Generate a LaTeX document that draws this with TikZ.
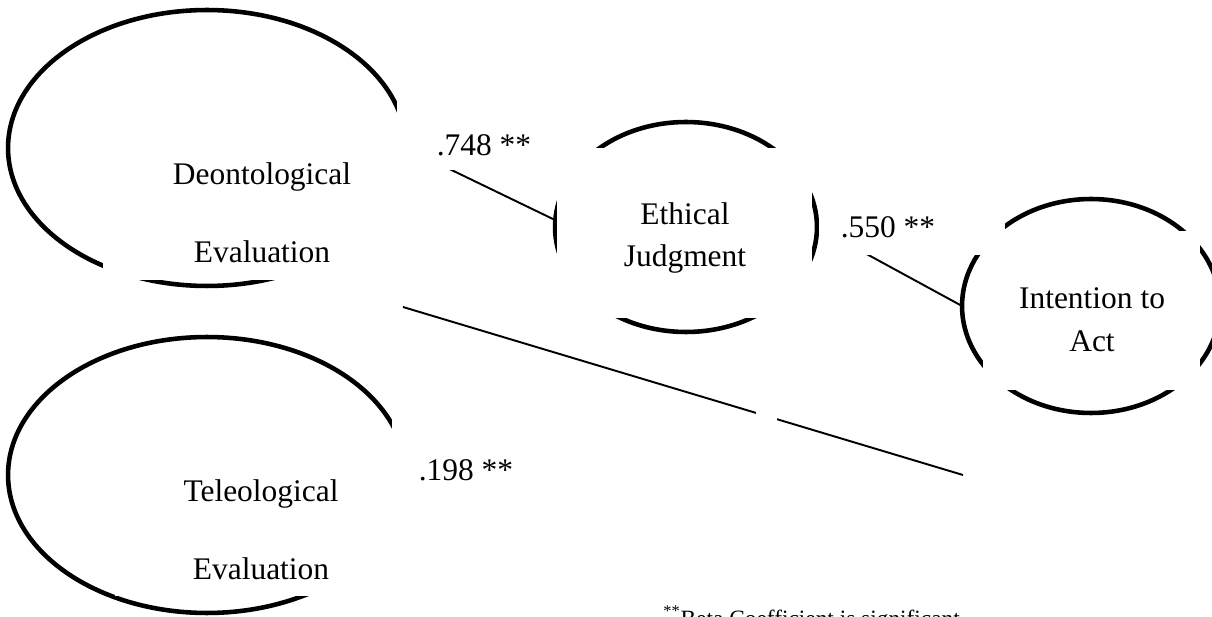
\documentclass[tikz,border=0pt]{standalone}
\usepackage{fontspec}
\setmainfont{Liberation Serif}
\usepackage{tikz}
\usetikzlibrary{shapes.geometric}
\tikzset{latent/.style = {draw, ellipse, line width = 2.6pt, inner sep = 0, outer sep = 0}}
\tikzset{mask/.style = {fill = white}}
\tikzset{link/.style = {line width = 1.1pt}}
\tikzset{txt/.style = {align = center, inner sep = 0, font = \fontsize{17.9}{24.2}\selectfont}}
\tikzset{wide/.style = {align = center, inner sep = 0, font = \fontsize{17.9}{44.2}\selectfont}}

\begin{document}
\begin{tikzpicture}[x = 0.02cm, y = -0.02cm]
      \useasboundingbox (0, 0) rectangle (1212, 617);

      % the four constructs
      \node [latent, minimum width = 7.96cm, minimum height = 5.52cm] (deon) at (207, 148) {};
      \node [latent, minimum width = 7.96cm, minimum height = 5.52cm] (teleo) at (207, 475) {};
      \node [latent, minimum width = 5.24cm, minimum height = 4.2cm] (ethic) at (686, 227) {};
      \node [latent, minimum width = 5.16cm, minimum height = 4.28cm] (inten) at (1091, 306) {};

      \coordinate (direct-a) at (403, 307);
      \coordinate (direct-b) at (963, 475);

      % paths
      \draw [link] (deon.east) -- (ethic.177);
      \draw [link] (ethic.east) -- (inten.west);
      \draw [link] (direct-a) -- (direct-b);

      % text frames
      \fill [mask] (103, 118) rectangle (420, 280);
      \fill [mask] (397, 95) rectangle (548, 170);
      \fill [mask] (557, 148) rectangle (812, 318);
      \fill [mask] (819, 195) rectangle (1005, 255);
      \fill [mask] (983, 231) rectangle (1200, 390);
      \fill [mask] (115, 430) rectangle (392, 596);
      \fill [mask] (392, 418) rectangle (545, 530);
      \fill [mask] (756, 395) rectangle (777, 425);

      \node [wide] (deon-text) at (262, 213) {Deontological\\Evaluation};
      \node [wide] (teleo-text) at (261, 530) {Teleological\\Evaluation};
      \node [txt] (ethic-text) at (685, 238) {Ethical\\Judgment};
      \node [txt] (inten-text) at (1092, 320) {Intention to\\Act};

      \node [txt, anchor = base] (beta-ej) at (484, 156) {.748 **};
      \node [txt, anchor = base] (beta-ia) at (888, 238) {.550 **};
      \node [txt, anchor = base] (beta-direct) at (466, 480) {.198 **};

      \node [anchor = base west, inner sep = 0, font = \fontsize{13.3}{16}\selectfont] (note) at (663, 626) {\textsuperscript{**}Beta Coefficient is significant};
    \end{tikzpicture}
\end{document}
